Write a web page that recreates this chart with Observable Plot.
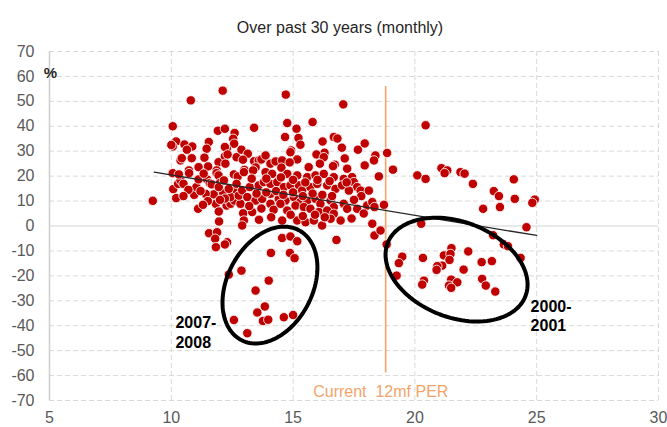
<!DOCTYPE html>
<html>
<head>
<meta charset="utf-8">
<script src="https://cdn.jsdelivr.net/npm/d3@7"></script>
<script src="https://cdn.jsdelivr.net/npm/@observablehq/plot@0.6"></script>
<style>
  html, body { margin: 0; padding: 0; background: #fff; }
  #chart { width: 667px; height: 427px; }
</style>
</head>
<body>
<div id="chart"></div>
<script>
// ---- data: forward 12m PER (x) vs subsequent return % (y), monthly ----
const forwardPER = [
  10.80,12.11,10.06,11.91,12.20,13.40,12.60,12.54,12.58,11.54,10.20,10.06,10.54,10.86,10.64,11.45,12.28,12.20,
  11.94,12.20,12.68,12.88,13.14,13.40,12.94,11.36,10.84,10.38,10.43,11.12,10.72,11.86,13.00,11.51,12.31,12.22,10.00,
  14.70,17.06,14.76,15.80,15.14,14.67,15.22,15.30,14.92,15.17,16.21,16.67,16.82,17.00,17.94,17.66,17.12,17.94,
  16.29,15.96,16.26,16.10,15.64,16.71,17.22,13.59,13.70,13.87,14.07,14.28,14.55,14.86,14.89,16.64,13.46,14.52,
  9.24,10.08,10.28,10.38,10.50,10.73,10.06,10.31,10.20,10.94,11.03,11.12,11.10,11.47,11.33,11.58,11.66,11.86,
  11.94,12.00,11.74,12.13,11.83,11.95,11.96,11.55,11.88,11.80,12.29,12.20,11.83,12.27,12.43,12.59,12.47,12.65,
  12.57,12.73,12.84,12.95,12.98,12.91,11.41,12.43,12.77,11.95,12.36,12.68,12.16,
  12.98,13.36,13.87,14.14,14.76,15.17,15.58,15.92,16.26,16.67,17.08,17.42,17.49,17.63,
  12.91,13.22,13.59,13.80,14.07,14.35,14.62,14.89,15.24,15.37,15.71,15.99,16.40,16.74,17.01,17.29,17.77,18.11,
  13.12,13.46,13.73,14.07,14.41,14.69,15.03,15.30,15.58,15.92,16.12,16.54,16.67,17.08,17.63,18.04,
  13.32,14.07,14.48,14.76,15.10,15.44,15.71,16.06,16.40,16.67,16.95,17.22,
  14.55,15.17,15.51,15.85,16.19,16.54,14.55,14.89,15.17,16.78,
  13.50,13.90,14.30,14.60,15.00,15.40,15.80,16.20,16.60,13.20,13.70,14.20,14.90,15.40,15.90,16.30,13.60,14.10,
  13.90,14.50,15.00,15.50,16.00,16.50,17.20,17.80,17.50,17.90,17.40,13.30,12.20,11.50,11.20,10.70,10.50,11.30,12.00,
  14.09,14.87,15.06,12.88,12.36,14.00,13.46,13.84,13.53,12.57,13.76,13.98,14.62,15.00,13.12,
  20.44,18.38,18.32,18.86,19.10,18.52,20.10,20.44,21.09,21.33,21.22,21.87,22.04,22.38,23.24,23.45,24.06,24.10,
  22.80,23.49,24.92,24.82,18.25,18.34,18.73,18.25,18.34,18.59,18.84,20.26,24.58,23.21,23.65,23.82,24.34,
  19.48,19.34,19.25,20.33,21.50,21.19,21.46,21.42,21.12,20.92,20.89,22.19,22.00,22.74,23.16,
  20.37,20.30,21.49,21.74,21.40,21.49,22.76,22.91,23.30
];
const returnPct = [
  50.4,54.3,40.0,38.2,39.0,39.4,37.3,35.0,33.0,33.7,33.9,31.9,32.7,31.9,30.6,31.0,31.0,31.7,
  25.6,28.0,27.6,30.6,29.0,26.0,26.6,27.4,27.2,26.3,27.2,23.6,22.3,22.3,22.5,23.9,28.7,25.0,32.5,
  52.7,48.8,41.3,41.7,39.0,35.7,35.3,32.6,30.3,26.7,33.9,35.7,35.1,31.4,33.1,30.6,27.1,24.3,
  29.4,28.7,27.6,25.0,23.6,24.6,23.0,26.3,26.7,28.3,25.0,25.9,26.3,25.5,29.6,24.0,23.5,23.4,
  10.1,14.8,16.9,18.3,16.9,21.2,21.2,20.7,11.2,12.5,15.6,18.7,6.9,18.7,21.0,17.2,16.7,21.2,
  20.3,17.3,12.7,13.2,8.9,5.8,1.8,-2.9,-2.5,-5.1,-6.5,-7.4,-8.5,8.2,8.9,10.2,13.9,14.5,
  20.7,19.9,8.9,5.1,2.2,0.2,12.9,11.6,12.2,15.6,14.9,16.9,18.3,
  21.6,22.3,21.6,20.9,20.9,20.3,19.6,20.3,20.9,19.6,18.9,19.6,17.6,15.6,
  14.3,15.6,16.3,17.6,16.9,17.6,15.6,16.3,16.3,14.2,15.6,16.9,16.3,14.9,16.3,14.2,14.2,14.2,
  11.6,10.2,10.9,12.9,10.9,10.2,11.6,9.6,10.2,10.9,8.9,10.2,7.6,8.9,6.9,8.2,
  5.6,8.9,8.9,6.2,8.2,7.6,6.9,5.6,6.2,4.9,2.2,6.9,
  2.2,2.2,1.5,2.2,0.2,2.9,-4.8,-4.2,-6.1,-5.6,
  13.0,13.5,14.0,12.5,13.5,12.0,13.0,12.5,12.0,8.0,7.0,6.5,4.5,4.0,4.5,3.5,2.5,3.5,
  19.0,19.5,18.5,17.5,18.5,18.0,17.5,12.0,10.5,5.0,3.0,19.0,11.0,10.0,14.0,14.5,12.0,8.5,10.5,
  -10.8,-10.8,-12.9,-17.9,-19.5,-21.9,-25.9,-32.3,-34.7,-37.7,-38.1,-37.6,-36.6,-35.7,-43.0,
  40.4,28.3,26.3,29.3,22.6,19.9,20.3,18.9,23.2,22.3,21.2,21.6,21.0,16.9,14.0,12.0,18.7,10.9,
  6.9,7.6,10.6,9.3,9.6,7.6,8.5,0.9,-3.8,-1.8,-7.4,0.9,-0.5,-3.7,-7.4,-8.1,-12.8,
  -12.3,-14.9,-19.9,-12.8,-8.9,-11.8,-11.2,-13.6,-15.9,-16.1,-17.6,-10.2,-17.5,-14.5,-14.1,
  -21.9,-23.5,-21.5,-22.6,-23.9,-24.8,-21.2,-23.9,-26.3
];

// trend line end points (as drawn in the source)
const trendPER = [9.3, 25.0];
const trendRet = [21.6, -3.8];

// current 12mf PER marker
const currentPER = 18.8;
const currentSpan = [56, -59];

// axis ticks
const xTicks = [5, 10, 15, 20, 25, 30];
const yTicks = [-70, -60, -50, -40, -30, -20, -10, 0, 10, 20, 30, 40, 50, 60, 70];

// highlighted episodes: centre and two conjugate semi-axes (data units)
const episodes = [
  {name: "2007-2008", cx: 14.05, cy: -23.7, ux: 1.18, uy: 22.05, vx: 1.55, vy: -7.95},
  {name: "2000-2001", cx: 21.71, cy: -17.5, ux: 2.83, uy: -10.6, vx: -0.70, vy: -17.9}
];
const episodeLabels = [
  {text: "2007-\n2008", x: 10.17, y: -42.4},
  {text: "2000-\n2001", x: 24.75, y: -35.8}
];
const perLabel = [{text: "Current\u00a0 12mf PER", x: 18.6, y: -66.6}];

// ---- build tables ----
const points = forwardPER.map((x, i) => ({x, y: returnPct[i]}));
const trend = trendPER.map((x, i) => ({x, y: trendRet[i]}));
const ellipsePts = episodes.flatMap(e =>
  d3.range(0, 360, 3).map(a => {
    const t = a * Math.PI / 180;
    return {name: e.name,
            x: e.cx + Math.cos(t) * e.ux + Math.sin(t) * e.vx,
            y: e.cy + Math.cos(t) * e.uy + Math.sin(t) * e.vy};
  }));

const fontFamily = "'Liberation Sans', Arial, Helvetica, sans-serif";
const orange = "#F4A46A";

const chart = Plot.plot({
  width: 667,
  height: 427,
  marginLeft: 49,
  marginRight: 9,
  marginTop: 51,
  marginBottom: 27,
  style: {fontFamily, fontSize: "16px", color: "#595959", background: "#fff", overflow: "visible"},
  x: {domain: [5, 30], ticks: xTicks, tickSize: 0, tickPadding: 11, tickFormat: d => String(d), label: null},
  y: {domain: [-70, 70], ticks: yTicks, tickSize: 0, tickPadding: 15, tickFormat: d => String(d), label: null},
  marks: [
    Plot.ruleY(yTicks.filter(d => d !== 0), {stroke: "#d9d9d9", strokeDasharray: "5,3"}),
    Plot.ruleX(xTicks.filter(d => d !== 5), {stroke: "#d9d9d9", strokeDasharray: "5,3"}),
    Plot.ruleY([0], {stroke: "#d4d4d4", strokeWidth: 1.2}),
    Plot.ruleX([5], {stroke: "#d0d0d0", strokeWidth: 1.6}),
    Plot.ruleX([currentPER], {y1: currentSpan[0], y2: currentSpan[1], stroke: orange, strokeWidth: 1.6}),
    Plot.dot(points, {x: "x", y: "y", r: 4.7, fill: "#C00000", stroke: "#ffffff", strokeWidth: 1, strokeOpacity: 0.85}),
    Plot.line(trend, {x: "x", y: "y", stroke: "#262626", strokeWidth: 1.3}),
    Plot.line(ellipsePts, {x: "x", y: "y", z: "name", curve: "linear-closed", stroke: "#000", strokeWidth: 4}),
    Plot.text(episodeLabels, {x: "x", y: "y", text: "text", textAnchor: "start", lineHeight: 1.22,
      fontWeight: "bold", fontSize: 16, fill: "#000"}),
    Plot.text(perLabel, {x: "x", y: "y", text: "text", textAnchor: "middle", fontSize: 16, fill: orange}),
    Plot.text(["Over past 30 years (monthly)"], {frameAnchor: "top", dx: -14, dy: -30,
      textAnchor: "middle", fontSize: 16, fill: "#262626"}),
    Plot.text(["%"], {frameAnchor: "top-left", dx: 1, dy: 16, textAnchor: "middle",
      fontSize: 15, fontWeight: "bold", fill: "#262626"})
  ]
});
document.getElementById("chart").appendChild(chart);
</script>
</body>
</html>
